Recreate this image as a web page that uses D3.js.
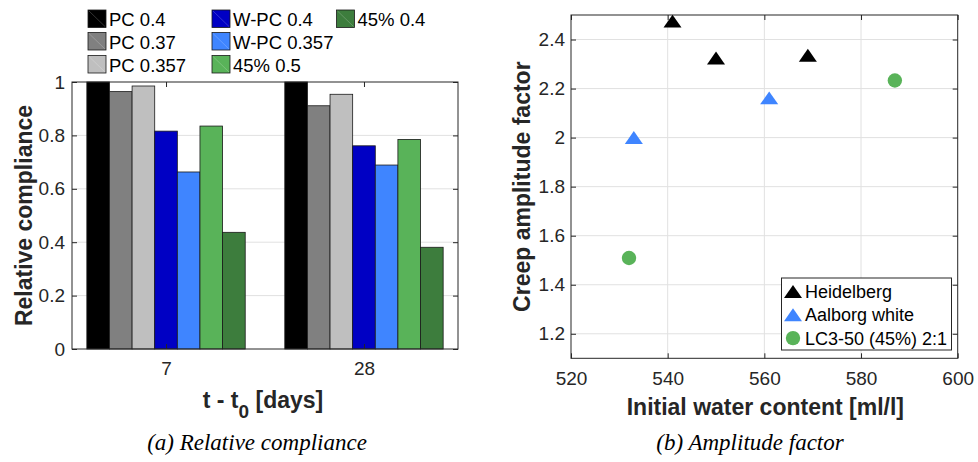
<!DOCTYPE html>
<html><head><meta charset="utf-8">
<script src="https://cdn.jsdelivr.net/npm/d3@7"></script>
<style>body{margin:0;background:#fff}svg{display:block}</style>
</head><body>
<script>
// ---------- data: (a) relative compliance ----------
const ages = ["7", "28"];
const seriesNames = ["PC 0.4", "PC 0.37", "PC 0.357", "W-PC 0.4", "W-PC 0.357", "45% 0.5", "45% 0.4"];
const seriesColors = ["#000000", "#808080", "#bfbfbf", "#0000c4", "#3f85ff", "#59b359", "#3d7d3d"];
const compliance7  = [1.0, 0.964, 0.985, 0.816, 0.663, 0.835, 0.437];
const compliance28 = [1.0, 0.911, 0.954, 0.761, 0.689, 0.785, 0.381];
const yTicksA = [0, 0.2, 0.4, 0.6, 0.8, 1];

// ---------- data: (b) amplitude factor ----------
const heidelbergW = [541, 550, 569];
const heidelbergA = [2.475, 2.325, 2.336];
const aalborgW = [533, 561];
const aalborgA = [2.0, 2.162];
const lc3W = [532, 587];
const lc3A = [1.509, 2.233];
const xTicksB = [520, 540, 560, 580, 600];
const yTicksB = [1.2, 1.4, 1.6, 1.8, 2.0, 2.2, 2.4];

const W = 978, H = 462;
const axisCol = "#262626", gridCol = "#e1e1e1";
const sans = "'Liberation Sans', Arial, Helvetica, sans-serif";
const svg = d3.select("body").append("svg").attr("width", W).attr("height", H)
  .style("font-family", sans);

// MATLAB-like flat triangle marker (bbox-centred)
const flatTriangle = {
  draw(ctx, size) {
    const w = Math.sqrt(size * 2.5), h = w * 0.72;
    ctx.moveTo(0, -h / 2); ctx.lineTo(w / 2, h / 2); ctx.lineTo(-w / 2, h / 2); ctx.closePath();
  }
};
const tri = d3.symbol().type(flatTriangle).size(130);

// ================= (a) =================
const A = {l: 72, r: 458, t: 82, b: 349};
const xA = d3.scaleLinear().domain([0.525, 2.475]).range([A.l, A.r]);
const yA = d3.scaleLinear().domain([0, 1]).range([A.b, A.t]);
const inner = d3.scaleBand().domain(d3.range(seriesNames.length)).range([-0.4, 0.4]);
const gA = svg.append("g");

gA.append("g").selectAll("line").data(yTicksA.filter(v => v > 0 && v < 1)).join("line")
  .attr("x1", A.l).attr("x2", A.r).attr("y1", d => yA(d)).attr("y2", d => yA(d))
  .attr("stroke", gridCol).attr("stroke-width", 1);

const groups = ages.map((a, i) => ({age: a, pos: i + 1, vals: i === 0 ? compliance7 : compliance28}));
groups.forEach(g => {
  gA.append("g").selectAll("rect").data(g.vals).join("rect")
    .attr("x", (d, i) => xA(g.pos + inner(i)))
    .attr("width", (d, i) => xA(g.pos + inner(i) + inner.bandwidth()) - xA(g.pos + inner(i)))
    .attr("y", d => yA(d)).attr("height", d => yA(0) - yA(d))
    .attr("fill", (d, i) => seriesColors[i])
    .attr("stroke", "#1a1a1a").attr("stroke-width", 0.8);
});

gA.append("rect").attr("x", A.l).attr("y", A.t).attr("width", A.r - A.l).attr("height", A.b - A.t)
  .attr("fill", "none").attr("stroke", axisCol).attr("stroke-width", 1);
const axLA = gA.append("g").attr("transform", `translate(${A.l},0)`)
  .call(d3.axisLeft(yA).tickValues(yTicksA).tickFormat(d3.format("~g")).tickSizeInner(-5).tickSizeOuter(0).tickPadding(7));
const axRA = gA.append("g").attr("transform", `translate(${A.r},0)`)
  .call(d3.axisRight(yA).tickValues(yTicksA).tickFormat("").tickSizeInner(-5).tickSizeOuter(0));
const axBA = gA.append("g").attr("transform", `translate(0,${A.b})`)
  .call(d3.axisBottom(xA).tickValues(groups.map(g => g.pos)).tickFormat((d, i) => ages[i]).tickSizeInner(-5).tickSizeOuter(0).tickPadding(13));
const axTA = gA.append("g").attr("transform", `translate(0,${A.t})`)
  .call(d3.axisTop(xA).tickValues(groups.map(g => g.pos)).tickFormat("").tickSizeInner(-5).tickSizeOuter(0));
[axLA, axRA, axBA, axTA].forEach(ax => {
  ax.select(".domain").remove();
  ax.selectAll("line").attr("stroke", axisCol);
  ax.selectAll("text").attr("fill", axisCol).style("font-size", "19px").style("font-family", sans);
});

gA.append("text").attr("transform", `translate(32,${(A.t + A.b) / 2}) rotate(-90)`)
  .attr("text-anchor", "middle").attr("font-weight", "bold").attr("font-size", 23).attr("fill", axisCol)
  .text("Relative compliance");
const xl = gA.append("text").attr("x", (A.l + A.r) / 2 - 2).attr("y", 408)
  .attr("text-anchor", "middle").attr("font-weight", "bold").attr("font-size", 23).attr("fill", axisCol);
xl.append("tspan").text("t - t");
xl.append("tspan").attr("dy", 10).attr("font-size", 19).text("0");
xl.append("tspan").attr("dy", -10).text(" [days]");

// legend (a), column-major with 3 rows
const legA = gA.append("g");
const colX = [88, 212, 336.5], rowY = [10, 32.5, 55.5];
seriesNames.forEach((name, i) => {
  const c = Math.floor(i / 3), r = i % 3;
  const g = legA.append("g").attr("transform", `translate(${colX[c]},${rowY[r]})`);
  g.append("rect").attr("width", 18).attr("height", 17.5).attr("fill", seriesColors[i])
    .attr("stroke", "#1a1a1a").attr("stroke-width", 0.8);
  g.append("line").attr("x1", 1).attr("y1", 1).attr("x2", 17).attr("y2", 16.5)
    .attr("stroke", "#ffffff").attr("stroke-opacity", 0.25).attr("stroke-width", 0.8);
  g.append("text").attr("x", 21).attr("y", 16).attr("font-size", 18.5).attr("fill", "#000").text(name);
});

// ================= (b) =================
const B = {l: 571, r: 957.7, t: 15, b: 358.3};
const xB = d3.scaleLinear().domain([520, 600]).range([B.l, B.r]);
const yB = d3.scaleLinear().domain([1.1, 2.5]).range([B.b, B.t]);
const gB = svg.append("g");

gB.append("g").selectAll("line").data(xTicksB.slice(1, -1)).join("line")
  .attr("x1", d => xB(d)).attr("x2", d => xB(d)).attr("y1", B.t).attr("y2", B.b)
  .attr("stroke", gridCol);
gB.append("g").selectAll("line").data(yTicksB).join("line")
  .attr("x1", B.l).attr("x2", B.r).attr("y1", d => yB(d)).attr("y2", d => yB(d))
  .attr("stroke", gridCol);

gB.append("rect").attr("x", B.l).attr("y", B.t).attr("width", B.r - B.l).attr("height", B.b - B.t)
  .attr("fill", "none").attr("stroke", axisCol).attr("stroke-width", 1);
const axLB = gB.append("g").attr("transform", `translate(${B.l},0)`)
  .call(d3.axisLeft(yB).tickValues(yTicksB).tickFormat(d3.format("~g")).tickSizeInner(-5).tickSizeOuter(0).tickPadding(6));
const axRB = gB.append("g").attr("transform", `translate(${B.r},0)`)
  .call(d3.axisRight(yB).tickValues(yTicksB).tickFormat("").tickSizeInner(-5).tickSizeOuter(0));
const axBB = gB.append("g").attr("transform", `translate(0,${B.b})`)
  .call(d3.axisBottom(xB).tickValues(xTicksB).tickFormat(d3.format("d")).tickSizeInner(-5).tickSizeOuter(0).tickPadding(13));
const axTB = gB.append("g").attr("transform", `translate(0,${B.t})`)
  .call(d3.axisTop(xB).tickValues(xTicksB).tickFormat("").tickSizeInner(-5).tickSizeOuter(0));
[axLB, axRB, axBB, axTB].forEach(ax => {
  ax.select(".domain").remove();
  ax.selectAll("line").attr("stroke", axisCol);
  ax.selectAll("text").attr("fill", axisCol).style("font-size", "19px").style("font-family", sans);
});

gB.append("text").attr("transform", `translate(530,${(B.t + B.b) / 2}) rotate(-90)`)
  .attr("text-anchor", "middle").attr("font-weight", "bold").attr("font-size", 23).attr("fill", axisCol)
  .text("Creep amplitude factor");
gB.append("text").attr("x", (B.l + B.r) / 2 + 1).attr("y", 415)
  .attr("text-anchor", "middle").attr("font-weight", "bold").attr("font-size", 23).attr("fill", axisCol)
  .text("Initial water content [ml/l]");

const blue = "#3f85ff", green = "#59b359";
gB.append("g").selectAll("path").data(heidelbergW.map((w, i) => [w, heidelbergA[i]])).join("path")
  .attr("d", tri).attr("fill", "#000")
  .attr("transform", d => `translate(${xB(d[0])},${yB(d[1])})`);
gB.append("g").selectAll("path").data(aalborgW.map((w, i) => [w, aalborgA[i]])).join("path")
  .attr("d", tri).attr("fill", blue)
  .attr("transform", d => `translate(${xB(d[0])},${yB(d[1])})`);
gB.append("g").selectAll("circle").data(lc3W.map((w, i) => [w, lc3A[i]])).join("circle")
  .attr("cx", d => xB(d[0])).attr("cy", d => yB(d[1])).attr("r", 7.2).attr("fill", green);

// legend (b)
const legB = gB.append("g").attr("transform", "translate(781.5,278)");
legB.append("rect").attr("width", 170).attr("height", 72).attr("fill", "#fff").attr("stroke", axisCol).attr("stroke-width", 1);
const legItems = [["Heidelberg", "tri", "#000"], ["Aalborg white", "tri", blue], ["LC3-50 (45%) 2:1", "circ", green]];
legItems.forEach((it, i) => {
  const cy = 13.5 + i * 23.3;
  if (it[1] === "tri") {
    legB.append("path").attr("d", tri).attr("fill", it[2]).attr("transform", `translate(11.5,${cy})`);
  } else {
    legB.append("circle").attr("cx", 11.5).attr("cy", cy).attr("r", 7.2).attr("fill", it[2]);
  }
  legB.append("text").attr("x", 23.5).attr("y", cy + 6.5).attr("font-size", 18).attr("fill", "#000").text(it[0]);
});

// captions
const serif = "'Liberation Serif', 'DejaVu Serif', serif";
svg.append("text").attr("x", 257).attr("y", 450).attr("text-anchor", "middle")
  .attr("font-family", serif).attr("font-style", "italic").attr("font-size", 23).attr("fill", "#000")
  .text("(a) Relative compliance");
svg.append("text").attr("x", 750).attr("y", 450).attr("text-anchor", "middle")
  .attr("font-family", serif).attr("font-style", "italic").attr("font-size", 23).attr("fill", "#000")
  .text("(b) Amplitude factor");
</script>
</body></html>
